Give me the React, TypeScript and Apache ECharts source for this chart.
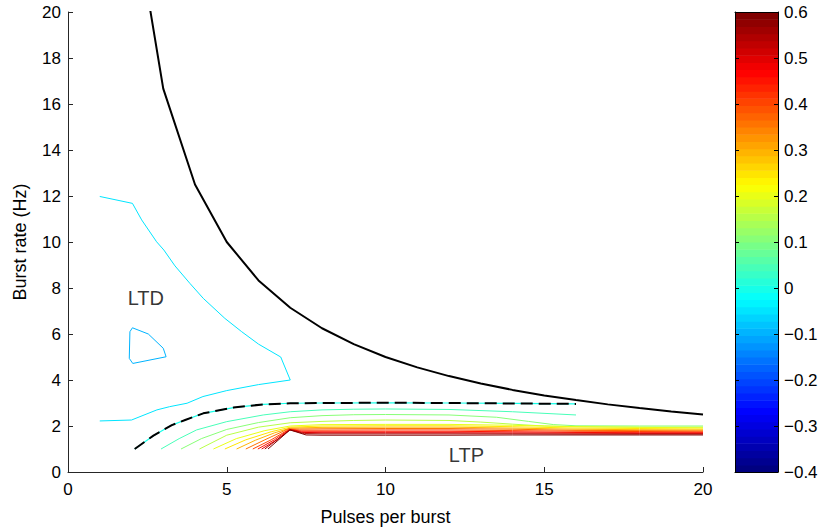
import React, { useEffect, useRef } from "react";
import * as echarts from "echarts";

// ---- data ----
const xTicks = [0, 5, 10, 15, 20];
const yTicks = [0, 2, 4, 6, 8, 10, 12, 14, 16, 18, 20];
const colorMin = -0.4;
const colorMax = 0.6;

// threshold curve (solid black)
const thresholdX = [2, 3, 4, 5, 6, 7, 8, 9, 10, 11, 12, 13, 14, 15, 16, 17, 18, 19, 20];
const thresholdY = [25, 16.67, 12.5, 10, 8.33, 7.14, 6.25, 5.56, 5, 4.55, 4.17, 3.85, 3.57, 3.33, 3.13, 2.94, 2.78, 2.63, 2.5];

// contour level -0.05 (LTD boundary)
const contourM005 = [[1, 2.22], [2, 2.26], [2.8, 2.7], [3.2, 2.84], [3.75, 2.99], [4.25, 3.28], [5, 3.54], [6, 3.8], [7, 4.0], [6.7, 5.0], [6, 5.56], [5.47, 6.1], [4.94, 6.68], [4.26, 7.55], [3.84, 8.2], [3.37, 8.96], [3.02, 9.65], [2.79, 10.01], [2.32, 10.96], [2.03, 11.68], [1, 11.98]];
// contour level -0.1 (small loop)
const contourM010 = [[2.03, 6.27], [2.53, 6.0], [3.0, 5.38], [3.09, 5.01], [2.04, 4.72], [1.93, 4.94], [1.95, 6.1], [2.03, 6.27]];
// contour level 0 (dashed)
const contour000 = [[2.1, 1], [2.69, 1.58], [3.27, 2.04], [3.69, 2.26], [4.26, 2.55], [5.21, 2.8], [6.15, 2.94], [7, 2.99], [8, 3.0], [10, 3.01], [12, 3.0], [14, 2.98], [16, 2.96]];
// positive levels
const contour005 = [[2.93, 1], [3.5, 1.45], [4.05, 1.83], [5, 2.19], [6.15, 2.48], [7, 2.62], [8, 2.7], [9, 2.73], [10, 2.74], [12, 2.72], [14, 2.62], [16, 2.48]];
const contour010 = [[3.56, 1], [4.2, 1.45], [5, 1.85], [6, 2.15], [7, 2.36], [8, 2.45], [9, 2.49], [10, 2.5], [12, 2.48], [13.5, 2.38], [14.5, 2.2], [15.3, 2.06], [16, 2.01], [18, 2.0], [20, 2.0]];
const contour015 = [[4.14, 1], [5, 1.6], [6, 1.95], [7, 2.14], [8, 2.2], [9, 2.24], [10, 2.26], [12, 2.24], [13, 2.17], [14, 2.08], [15, 2.0], [16, 1.97], [18, 1.95], [20, 1.95]];
const contour020 = [[4.58, 1], [5.3, 1.45], [6.2, 1.8], [7, 2.0], [8, 2.06], [10, 2.07], [12, 2.07], [14, 2.03], [16, 1.97], [18, 1.94], [20, 1.92]];
const contour025 = [[4.94, 1], [5.6, 1.4], [6.4, 1.75], [7, 1.95], [8, 2.0], [10, 2.01], [12, 2.01], [14, 1.97], [16, 1.91], [18, 1.89], [20, 1.87]];
const contour030 = [[5.31, 1], [5.9, 1.38], [6.5, 1.7], [7, 1.91], [8, 1.94], [10, 1.95], [12, 1.95], [14, 1.91], [16, 1.86], [18, 1.84], [20, 1.83]];
const contour035 = [[5.6, 1], [6.2, 1.4], [6.95, 1.88], [7.3, 1.87], [8, 1.88], [10, 1.89], [12, 1.89], [14, 1.86], [16, 1.81], [18, 1.8], [20, 1.79]];
const contour040 = [[5.82, 1], [6.4, 1.4], [6.97, 1.86], [7.3, 1.82], [8, 1.82], [10, 1.83], [12, 1.83], [14, 1.8], [16, 1.77], [18, 1.76], [20, 1.75]];
const contour045 = [[5.98, 1], [6.5, 1.4], [6.98, 1.85], [7.35, 1.77], [8, 1.77], [10, 1.77], [12, 1.77], [14, 1.75], [16, 1.72], [18, 1.71], [20, 1.71]];
const contour050 = [[6.1, 1], [6.6, 1.42], [6.99, 1.84], [7.4, 1.72], [8, 1.71], [10, 1.71], [12, 1.71], [14, 1.7], [16, 1.69], [18, 1.68], [20, 1.68]];
const contour055 = [[6.2, 1], [6.99, 1.83], [7.45, 1.67], [8, 1.66], [10, 1.66], [12, 1.66], [14, 1.66], [16, 1.65], [18, 1.65], [20, 1.65]];
const contour060 = [[6.3, 1], [6.99, 1.83], [7.5, 1.61], [8, 1.6], [10, 1.6], [12, 1.6], [14, 1.61], [16, 1.61], [18, 1.61], [20, 1.61]];

const positiveLevels = [0.05, 0.1, 0.15, 0.2, 0.25, 0.3, 0.35, 0.4, 0.45, 0.5, 0.55, 0.6];
const positiveContours = [contour005, contour010, contour015, contour020, contour025, contour030, contour035, contour040, contour045, contour050, contour055, contour060];

const regionLabels = [[2.45, 7.55, "LTD"], [12.55, 0.75, "LTP"]];

// ---- colour helpers ----
const N_COLORS = 64;
function jet(t: number): string {
  const c = (v: number) => Math.max(0, Math.min(1, v));
  const r = c(Math.min(4 * t - 1.5, -4 * t + 4.5));
  const g = c(Math.min(4 * t - 0.5, -4 * t + 3.5));
  const b = c(Math.min(4 * t + 0.5, -4 * t + 2.5));
  return `rgb(${Math.round(r * 255)},${Math.round(g * 255)},${Math.round(b * 255)})`;
}
function levelColor(v: number): string {
  let i = Math.floor(((v - colorMin) / (colorMax - colorMin)) * N_COLORS + 1e-9);
  i = Math.max(0, Math.min(N_COLORS - 1, i));
  return jet(i / (N_COLORS - 1));
}

const FONT = "'Liberation Sans', Arial, Helvetica, sans-serif";

export default function App() {
  const ref = useRef<HTMLDivElement>(null);
  useEffect(() => {
    if (!ref.current) return;
    const chart = echarts.init(ref.current, undefined, { renderer: "svg" });

    const bands: number[][] = [];
    for (let i = 0; i < N_COLORS; i++) {
      const lo = colorMin + (i * (colorMax - colorMin)) / N_COLORS;
      bands.push([lo, lo + (colorMax - colorMin) / N_COLORS, i]);
    }

    const lineSeries = (data: number[][], color: string, width = 1, extra: any = {}) => ({
      type: "line",
      xAxisIndex: 0,
      yAxisIndex: 0,
      data,
      showSymbol: false,
      symbol: "none",
      clip: true,
      silent: true,
      lineStyle: { color, width, ...(extra.lineStyle || {}) },
      z: extra.z ?? 2,
    });

    const series: any[] = [];
    series.push(lineSeries(contourM005, levelColor(-0.05)));
    series.push(lineSeries(contourM010, levelColor(-0.1)));
    positiveContours.forEach((d, k) => series.push(lineSeries(d, levelColor(positiveLevels[k]))));
    series.push(lineSeries(contour000, levelColor(0), 1.2, { z: 3 }));
    series.push(lineSeries(contour000, "#000", 2, { z: 4, lineStyle: { type: [12, 6] } }));
    series.push(
      lineSeries(
        thresholdX.map((x, i) => [x, thresholdY[i]]),
        "#000",
        2,
        { z: 4 }
      )
    );
    series.push({
      type: "scatter",
      xAxisIndex: 0,
      yAxisIndex: 0,
      data: regionLabels,
      symbolSize: 0,
      silent: true,
      label: {
        show: true,
        position: "inside",
        formatter: (p: any) => p.data[2],
        fontSize: 20,
        color: "#000",
        fontFamily: FONT,
      },
      z: 5,
    });
    series.push({
      type: "custom",
      xAxisIndex: 1,
      yAxisIndex: 2,
      data: bands,
      silent: true,
      encode: { x: -1, y: [0, 1] },
      renderItem: (_params: any, api: any) => {
        const lo = api.value(0);
        const hi = api.value(1);
        const idx = api.value(2);
        const a = api.coord([0, hi]);
        const b = api.coord([1, lo]);
        return {
          type: "rect",
          shape: { x: a[0], y: a[1], width: b[0] - a[0], height: b[1] - a[1] + 0.6 },
          style: { fill: jet(idx / (N_COLORS - 1)) },
        };
      },
      z: 1,
    });

    const axisLine = { show: true, onZero: false, lineStyle: { color: "#262626", width: 1 } };
    const boxLine = { show: true, onZero: false, lineStyle: { color: "#000", width: 1 } };
    const tickLabel = { fontSize: 17, color: "#000", fontFamily: FONT };
    const cbFormatter = (v: number) => {
      const r = Math.round(v * 10) / 10;
      if (Math.abs(r) < 1e-9) return "0";
      return (r < 0 ? "\u2212" : "") + Math.abs(r).toFixed(1);
    };

    chart.setOption({
      animation: false,
      backgroundColor: "#fff",
      textStyle: { fontFamily: FONT },
      grid: [
        { left: 68, top: 12, width: 635, height: 460 },
        { left: 735, top: 12, width: 43, height: 460 },
      ],
      xAxis: [
        {
          gridIndex: 0,
          type: "value",
          min: xTicks[0],
          max: xTicks[xTicks.length - 1],
          interval: xTicks[1] - xTicks[0],
          axisLine,
          axisTick: { show: true, inside: true, length: 5, lineStyle: { color: "#262626" } },
          axisLabel: { ...tickLabel, margin: 9 },
          splitLine: { show: false },
          name: "Pulses per burst",
          nameLocation: "middle",
          nameGap: 36,
          nameTextStyle: { fontSize: 18, color: "#000", fontFamily: FONT },
        },
        {
          gridIndex: 1, type: "value", min: 0, max: 1, position: "bottom",
          axisLine: boxLine, axisTick: { show: false },
          axisLabel: { show: false }, splitLine: { show: false }, z: 10,
        },
        {
          gridIndex: 1, type: "value", min: 0, max: 1, position: "top",
          axisLine: boxLine, axisTick: { show: false },
          axisLabel: { show: false }, splitLine: { show: false }, z: 10,
        },
      ],
      yAxis: [
        {
          gridIndex: 0,
          type: "value",
          min: yTicks[0],
          max: yTicks[yTicks.length - 1],
          interval: yTicks[1] - yTicks[0],
          axisLine,
          axisTick: { show: true, inside: true, length: 5, lineStyle: { color: "#262626" } },
          axisLabel: { ...tickLabel, margin: 7 },
          splitLine: { show: false },
          name: "Burst rate (Hz)",
          nameLocation: "middle",
          nameRotate: 90,
          nameGap: 39,
          nameTextStyle: { fontSize: 18, color: "#000", fontFamily: FONT },
        },
        { gridIndex: 1, type: "value", show: false, min: 0, max: 1 },
        {
          gridIndex: 1,
          type: "value",
          position: "right",
          min: colorMin,
          max: colorMax,
          interval: 0.1,
          axisLine: boxLine,
          axisTick: { show: true, inside: true, length: 4, lineStyle: { color: "#000" } },
          axisLabel: { ...tickLabel, margin: 6, formatter: cbFormatter },
          splitLine: { show: false },
          z: 10,
        },
        {
          gridIndex: 1,
          type: "value",
          position: "left",
          min: colorMin,
          max: colorMax,
          interval: 0.1,
          axisLine: boxLine,
          axisTick: { show: true, inside: true, length: 4, lineStyle: { color: "#000" } },
          axisLabel: { show: false },
          splitLine: { show: false },
          z: 10,
        },
      ],
      series,
    });
    return () => chart.dispose();
  }, []);
  return (
    <div
      ref={ref}
      style={{ position: "fixed", left: 0, top: 0, width: 826, height: 532, background: "#fff" }}
    />
  );
}
